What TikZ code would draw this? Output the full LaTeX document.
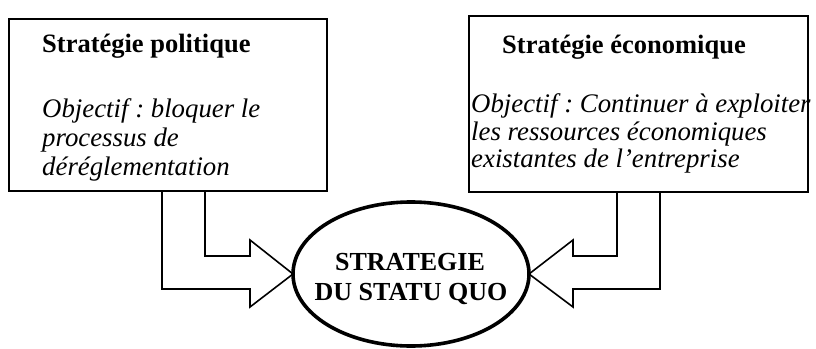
\documentclass[tikz,border=0pt]{standalone}
\usepackage{fontspec}
\setmainfont{Liberation Serif}
\usetikzlibrary{shapes.geometric}
\frenchspacing
\begin{document}
\begin{tikzpicture}[x=1pt,y=-1pt,
  box/.style={draw, rectangle, line width=1.9pt, inner sep=0pt, outer sep=0pt},
  title/.style={anchor=base west, inner sep=0pt, font=\fontsize{26.5}{29}\selectfont\bfseries},
  body/.style={anchor=base west, inner sep=0pt, font=\fontsize{26.8}{29}\selectfont\itshape},
  barrow/.style={draw, line width=1.6pt, line join=miter},
  hub/.style={ellipse, draw, line width=3.6pt, minimum width=236pt, minimum height=144pt,
    inner sep=0pt, outer sep=0pt},
  hubtext/.style={anchor=base, inner sep=0pt, font=\fontsize{26}{30}\selectfont\bfseries}]
\useasboundingbox (0,0) rectangle (816,348);

% boxes
\node[box, minimum width=318pt, minimum height=172pt] (pol) at (168,105) {};
\node[box, minimum width=339pt, minimum height=176pt] (eco) at (638.5,104) {};

% hub ellipse
\node[hub] (ell) at (411,274) {};
\node[hubtext] (h1) at (410,270) {STRATEGIE};
\node[hubtext] (h2) at (411,300) {DU STATU QUO};

% texts
\node[title] (t1) at (42,52) {Stratégie politique};
\node[body] (b1a) at (42,117) {Objectif : bloquer le};
\node[body] (b1b) at (42,146) {processus de};
\node[body] (b1c) at (42,175) {déréglementation};

\node[title] (t2) at (502,53) {Stratégie économique};
\node[body] (b2a) at (471,112) {Objectif : Continuer à exploiter};
\node[body] (b2b) at (471,140) {les ressources économiques};
\node[body] (b2c) at (471,167) {existantes de l’entreprise};

% block arrows
\draw[barrow] (162,191) -- (162,289) -- (250,289) -- (250,307) -- (ell.west)
  -- (250,240) -- (250,256) -- (205,256) -- (205,191);
\draw[barrow] (660,192) -- (660,289) -- (573,289) -- (573,307) -- (ell.east)
  -- (573,240) -- (573,256) -- (617,256) -- (617,192);
\end{tikzpicture}
\end{document}
